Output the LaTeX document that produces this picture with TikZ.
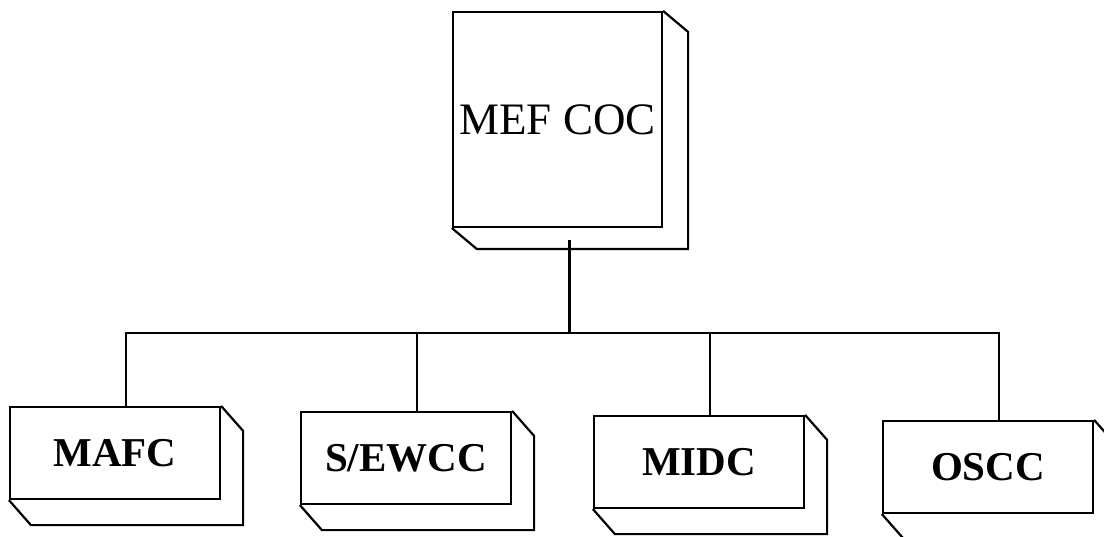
\documentclass[tikz,border=0pt]{standalone}
\usepackage{fontspec}
\setmainfont{Liberation Serif}
\usepackage{tikz}
\usetikzlibrary{calc}
\tikzstyle{block}=[rectangle,draw,fill=white,line width=2.2pt,inner sep=0pt]
\tikzstyle{topblock}=[block,minimum width=209pt,minimum height=215pt,font=\fontsize{45}{50}\selectfont]
\tikzstyle{subblock}=[block,minimum width=210pt,minimum height=92pt,font=\fontsize{41}{45}\selectfont\bfseries]
\tikzstyle{undirectededge} = [draw,line width=2.2pt]

\begin{document}
\begin{tikzpicture}[x=1pt,y=-1pt]

  \useasboundingbox (0,0) rectangle (1104,537);
  \def\dx{22};
  \def\dy{25};

  % top box
  \node[topblock] (coc) at (557.5,119.5) {MEF COC};
  \path[undirectededge] (coc.north east) -- ++(25,21) -- ($(coc.south east)+(25,21)$)
        -- ($(coc.south west)+(25,21)$) -- (coc.south west);

  % lower row
  \foreach \x/\y/\name/\label in {115/453/mafc/MAFC, 406/458/sewcc/{S/EWCC}, 699/462/midc/MIDC, 988/467/oscc/OSCC}
  {
     \node[subblock] (\name) at (\x,\y) {\label};
     \path[undirectededge] (\name.north east) -- ++(\dx,\dy) -- ($(\name.south east)+(\dx,\dy)$)
        -- ($(\name.south west)+(\dx,\dy)$) -- (\name.south west);
  }

  \coordinate (bus) at ($(coc.south)+(12,105)$);
  \path[undirectededge] ($(coc.south)+(12,12)$) -- (bus);

  \foreach \name in {mafc, sewcc, midc, oscc}
         \path[undirectededge] ($(\name.north)+(11,0)$) |- (bus);

\end{tikzpicture}
\end{document}
